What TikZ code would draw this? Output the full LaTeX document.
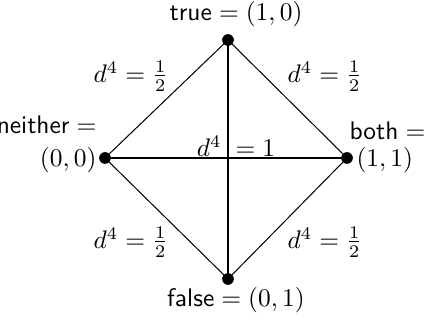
\documentclass[tikz,border=0pt]{standalone}
\begin{document}
\begin{tikzpicture}[x=0.393pt,y=-0.393pt,
  dot/.style={circle,fill=black,inner sep=0pt,minimum size=4.6pt},
  outer/.style={line width=0.4pt},
  inner/.style={line width=0.8pt},
  lbl/.style={inner sep=0pt}]
\useasboundingbox (0,0) rectangle (435,322);
\node[dot] (t) at (228,40) {};
\node[dot] (l) at (105,158) {};
\node[dot] (r) at (347,158) {};
\node[dot] (b) at (228,279) {};
\draw[outer] (t.center) -- (l.center) -- (b.center) -- (r.center) -- (t.center);
\draw[inner] (t.center) -- (b.center);
\draw[inner] (l.center) -- (r.center);
\node[lbl] (tl) at (236,14) {$\textsf{true}=(1,0)$};
\node[lbl] (bl) at (236,300) {$\textsf{false}=(0,1)$};
\node[lbl,align=right,anchor=east] (ll) at (97,144) {$\textsf{neither}=$\\[1pt]$(0,0)$};
\node[lbl,anchor=west] (rl1) at (349,131) {$\textsf{both}=$};
\node[lbl,anchor=west] (rl2) at (356,160) {$(1,1)$};
\node[lbl] (e1) at (131,76) {$d^4=\frac12$};
\node[lbl] (e2) at (325,76) {$d^4=\frac12$};
\node[lbl] (e3) at (131,242) {$d^4=\frac12$};
\node[lbl] (e4) at (325,242) {$d^4=\frac12$};
\node[lbl] (c) at (236,146) {$d^4\;=1$};
\end{tikzpicture}
\end{document}
